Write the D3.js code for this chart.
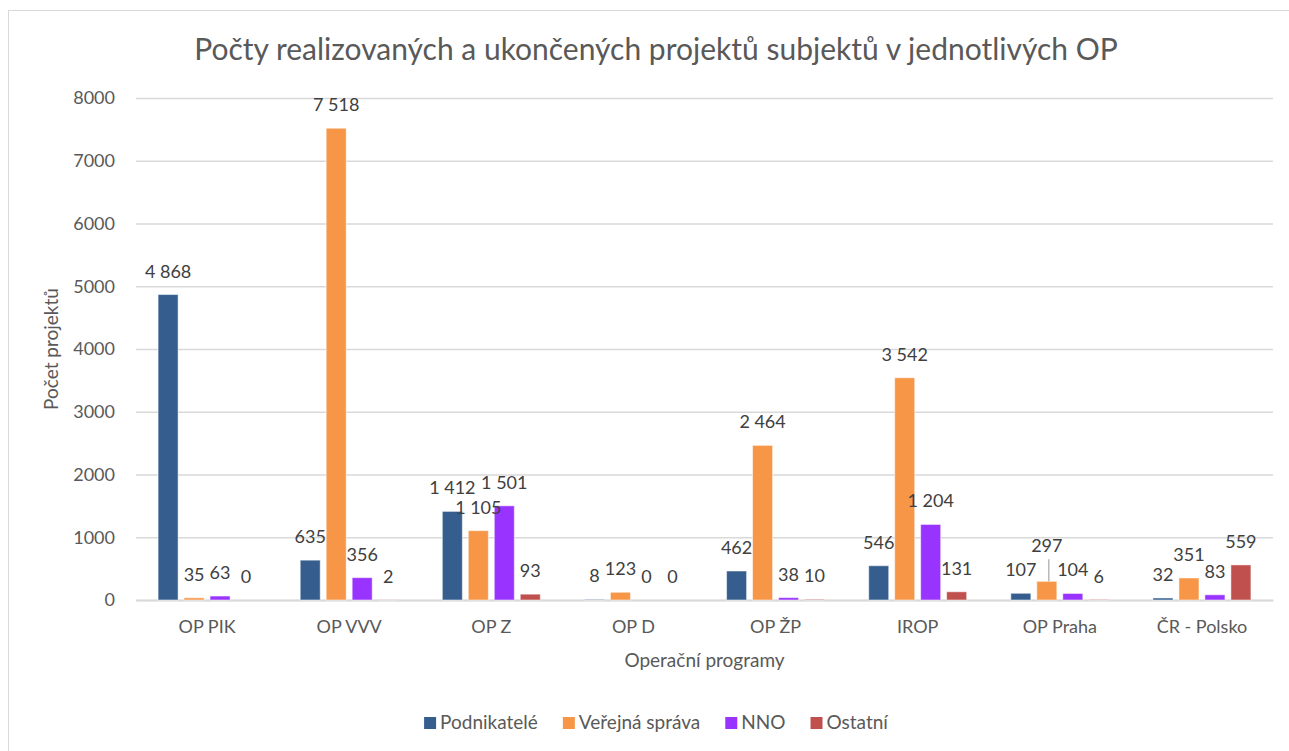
<!DOCTYPE html>
<html>
<head>
<meta charset="utf-8">
<script src="https://cdn.jsdelivr.net/npm/d3@7/dist/d3.min.js"></script>
<style>
  html, body { margin: 0; padding: 0; background: #fff; }
  svg { display: block; font-family: Lato, "Open Sans", sans-serif; }
</style>
</head>
<body>
<svg id="chart" width="1289" height="751"></svg>
<script>
const title = "Počty realizovaných a ukončených projektů subjektů v jednotlivých OP";
const categories = ["OP PIK", "OP VVV", "OP Z", "OP D", "OP ŽP", "IROP", "OP Praha", "ČR - Polsko"];
const seriesNames = ["Podnikatelé", "Veřejná správa", "NNO", "Ostatní"];
const podnikatele   = [4868, 635, 1412, 8, 462, 546, 107, 32];
const verejnaSprava = [35, 7518, 1105, 123, 2464, 3542, 297, 351];
const nno           = [63, 356, 1501, 0, 38, 1204, 104, 83];
const ostatni       = [0, 2, 93, 0, 10, 131, 6, 559];
const yTicks = [0, 1000, 2000, 3000, 4000, 5000, 6000, 7000, 8000];
const xAxisTitle = "Operační programy";
const yAxisTitle = "Počet projektů";

const seriesValues = [podnikatele, verejnaSprava, nno, ostatni];
const colors = ["#355e8f", "#f79646", "#9933ff", "#c0504d"];

const fmt = v => d3.format(",")(v).replace(/,/g, " ");

const svg = d3.select("#chart");
const W = 1289, H = 751;
const plot = { left: 136, right: 1273, top: 98, bottom: 600 };
const centerX = 656;

// chart border
svg.append("rect").attr("x", 8.5).attr("y", 10.5).attr("width", W + 10).attr("height", H + 10)
  .attr("fill", "#fff").attr("stroke", "#d9d9d9").attr("stroke-width", 1);

const x0 = d3.scaleBand().domain(categories).range([plot.left, plot.right]).padding(0);
const x1 = d3.scaleBand().domain(seriesNames).range([0, x0.bandwidth()])
  .paddingInner(0.23).paddingOuter(0.85);
const y = d3.scaleLinear().domain([0, 8000]).range([plot.bottom, plot.top]);

// gridlines
const yAxis = d3.axisLeft(y).tickValues(yTicks).tickSize(-(plot.right - plot.left)).tickFormat(d => d);
const gy = svg.append("g").attr("transform", `translate(${plot.left},0)`).call(yAxis);
gy.select(".domain").remove();
gy.selectAll(".tick line").attr("stroke", "#d9d9d9").attr("stroke-width", 1.3);
gy.selectAll(".tick text").attr("x", -21).attr("fill", "#595959")
  .style("font-size", "18px").style("font-family", "Lato, sans-serif");

// x axis
const xAxis = d3.axisBottom(x0).tickSize(0).tickPadding(0);
const gx = svg.append("g").attr("transform", `translate(0,${plot.bottom})`).call(xAxis);
gx.select(".domain").attr("stroke", "#d9d9d9").attr("stroke-width", 2);
gx.selectAll(".tick text").attr("y", 33).attr("dy", 0).attr("fill", "#595959")
  .style("font-size", "18px").style("font-family", "Lato, sans-serif");

// bars
const rows = [];
categories.forEach((c, i) => {
  seriesNames.forEach((s, j) => {
    rows.push({ cat: c, ser: s, j, value: seriesValues[j][i] });
  });
});

svg.append("g").selectAll("rect").data(rows).join("rect")
  .attr("x", d => x0(d.cat) + x1(d.ser))
  .attr("y", d => y(d.value))
  .attr("width", x1.bandwidth())
  .attr("height", d => y(0) - y(d.value))
  .attr("fill", d => colors[d.j])
  .attr("stroke", "#ffffff").attr("stroke-opacity", 0.5).attr("stroke-width", 1);

// label nudges (label moved away from default position, with leader line)
const nudges = { "OP Praha|Veřejná správa": -12 };

const lg = svg.append("g");
rows.forEach(d => {
  const cx = x0(d.cat) + x1(d.ser) + x1.bandwidth() / 2;
  const top = y(d.value);
  const nudge = nudges[d.cat + "|" + d.ser] || 0;
  const by = top - 17 + nudge;
  if (nudge) {
    lg.append("line").attr("x1", cx + 2).attr("x2", cx + 2).attr("y1", by + 7).attr("y2", top)
      .attr("stroke", "#a6a6a6").attr("stroke-width", 1.2);
  }
  lg.append("text").attr("x", cx).attr("y", by).attr("text-anchor", "middle")
    .attr("fill", "#404040").style("font-size", "18px").text(fmt(d.value));
});

// title
svg.append("text").attr("x", centerX).attr("y", 60).attr("text-anchor", "middle")
  .attr("fill", "#595959").style("font-size", "30px").text(title);

// axis titles
svg.append("text").attr("x", (plot.left + plot.right) / 2).attr("y", 667).attr("text-anchor", "middle")
  .attr("fill", "#595959").style("font-size", "19px").text(xAxisTitle);
svg.append("text").attr("transform", `translate(58,${(plot.top + plot.bottom) / 2}) rotate(-90)`)
  .attr("text-anchor", "middle").attr("fill", "#595959").style("font-size", "19px").text(yAxisTitle);

// legend
const leg = svg.append("g");
let cx = 0;
seriesNames.forEach((s, j) => {
  const g = leg.append("g");
  g.append("rect").attr("x", 0).attr("y", -12).attr("width", 12).attr("height", 12).attr("fill", colors[j]);
  const t = g.append("text").attr("x", 16).attr("y", 0).attr("fill", "#595959").style("font-size", "19px").text(s);
  const w = 16 + t.node().getComputedTextLength();
  g.attr("transform", `translate(${cx},0)`);
  cx += w + 25;
});
const totalW = cx - 25;
leg.attr("transform", `translate(${centerX - totalW / 2},729)`);
</script>
</body>
</html>
